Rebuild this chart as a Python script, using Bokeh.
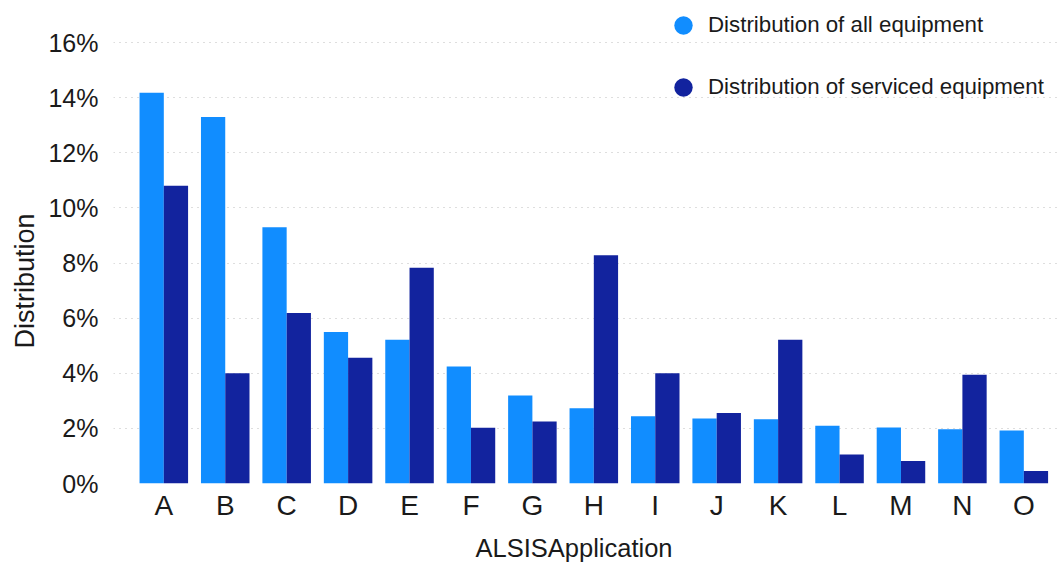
from bokeh.plotting import figure
from bokeh.models import (ColumnDataSource, Range1d, FixedTicker, PrintfTickFormatter,
                          Legend, LegendItem, Title)
from bokeh.transform import dodge
from bokeh.embed import file_html
from bokeh.resources import INLINE

# Share of equipment per ALSIS application, in percent
categories = ["A", "B", "C", "D", "E", "F", "G", "H", "I", "J", "K", "L", "M", "N", "O"]
all_equipment = [14.18, 13.30, 9.30, 5.50, 5.22, 4.25, 3.19, 2.73, 2.44, 2.36, 2.33, 2.10, 2.03, 1.97, 1.92]
serviced_equipment = [10.81, 4.00, 6.19, 4.56, 7.83, 2.02, 2.25, 8.28, 4.00, 2.56, 5.22, 1.05, 0.82, 3.95, 0.45]
y_ticks = [0, 2, 4, 6, 8, 10, 12, 14, 16]

FONT = "Liberation Sans"
LIGHT = "#118DFF"
DARK = "#12239E"
TEXT = "#1a1a1a"

positions = list(range(len(categories)))
source = ColumnDataSource(dict(pos=positions, cat=categories,
                               all=all_equipment, serviced=serviced_equipment))

p = figure(width=1060, height=570, output_backend="svg", toolbar_location=None,
           x_range=Range1d(-0.819, 14.597), y_range=Range1d(0, 17.53),
           min_border_left=113, min_border_right=0, min_border_top=0, min_border_bottom=87)
p.outline_line_color = None
p.background_fill_color = "white"
p.border_fill_color = "white"

bar_w = 0.395
p.vbar(x=dodge("pos", -bar_w / 2), top="all", width=bar_w, source=source,
       fill_color=LIGHT, line_color=None)
p.vbar(x=dodge("pos", bar_w / 2), top="serviced", width=bar_w, source=source,
       fill_color=DARK, line_color=None)

# axes
p.xaxis.ticker = FixedTicker(ticks=positions)
p.xaxis.major_label_overrides = {i: c for i, c in enumerate(categories)}
p.xaxis.major_label_text_font = FONT
p.xaxis.major_label_text_font_size = "28px"
p.xaxis.major_label_text_color = TEXT
p.xaxis.major_label_standoff = 0
p.xaxis.axis_line_color = None
p.xaxis.major_tick_line_color = None
p.xaxis.minor_tick_line_color = None

p.yaxis.ticker = FixedTicker(ticks=y_ticks)
p.yaxis.formatter = PrintfTickFormatter(format="%d%%")
p.yaxis.major_label_text_font = FONT
p.yaxis.major_label_text_font_size = "25px"
p.yaxis.major_label_text_color = TEXT
p.yaxis.major_label_standoff = 9
p.yaxis.axis_line_color = None
p.yaxis.major_tick_line_color = None
p.yaxis.minor_tick_line_color = None

p.xgrid.visible = False
p.ygrid.ticker = FixedTicker(ticks=y_ticks)
p.ygrid.grid_line_color = "#bdbdbd"
p.ygrid.grid_line_dash = "1 5"
p.ygrid.grid_line_width = 1

# axis titles
p.add_layout(Title(text="ALSISApplication", align="left", offset=362, standoff=16,
                   text_font=FONT, text_font_size="25.5px", text_font_style="normal",
                   text_color=TEXT), "below")
p.add_layout(Title(text="Distribution", align="left", offset=135, standoff=12,
                   text_font=FONT, text_font_size="27px", text_font_style="normal",
                   text_color=TEXT), "left")

# legend with round markers (NaN points keep them off the chart itself)
nan = float("nan")
dot_all = p.scatter(x=positions[:1], y=[nan], marker="circle", fill_color=LIGHT, line_color=None)
dot_srv = p.scatter(x=positions[:1], y=[nan], marker="circle", fill_color=DARK, line_color=None)
legend = Legend(items=[LegendItem(label="Distribution of all equipment", renderers=[dot_all]),
                       LegendItem(label="Distribution of serviced equipment", renderers=[dot_srv])],
                location=(547, 373), orientation="vertical",
                glyph_width=46, glyph_height=46, spacing=16, padding=0, margin=0,
                label_standoff=2, border_line_color=None, background_fill_alpha=0,
                label_text_font=FONT, label_text_font_size="22.3px", label_text_color=TEXT)
p.add_layout(legend)

open("out.html", "w").write(file_html(p, INLINE))
